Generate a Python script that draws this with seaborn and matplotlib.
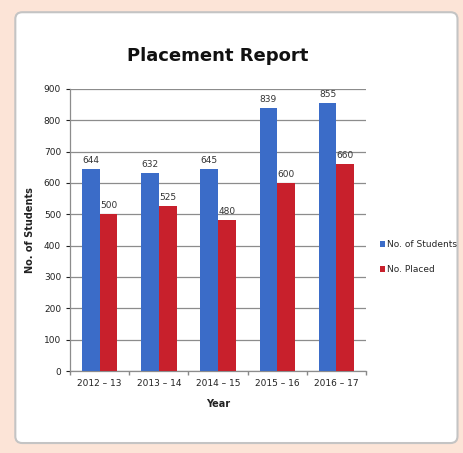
import matplotlib
matplotlib.use("Agg")
import matplotlib.pyplot as plt
import seaborn as sns
import pandas as pd
from matplotlib.patches import FancyBboxPatch, Patch
from matplotlib import font_manager

years = ["2012-13", "2013-14", "2014-15", "2015-16", "2016-17"]
year_labels = ["2012 – 13", "2013 – 14", "2014 – 15", "2015 – 16", "2016 – 17"]
students = [644, 632, 645, 839, 855]
placed = [500, 525, 480, 600, 660]
series = ["No. of Students", "No. Placed"]

sns.set_theme(style="white")
names = {f.name for f in font_manager.fontManager.ttflist}
fam = "Liberation Sans Narrow" if "Liberation Sans Narrow" in names else "DejaVu Sans"
plt.rcParams['font.family'] = [fam, 'DejaVu Sans']
small = 7.5 if fam != "DejaVu Sans" else 6.5

df = pd.DataFrame({
    "Year": years * 2,
    "Value": students + placed,
    "Series": [series[0]] * len(years) + [series[1]] * len(years),
})

fig = plt.figure(figsize=(4.64, 4.53), dpi=100)
fig.patch.set_facecolor("#fce4d7")
panel = FancyBboxPatch((0.033, 0.022), 0.953, 0.951, boxstyle="round,pad=0,rounding_size=0.015",
                       transform=fig.transFigure, facecolor="white", edgecolor="#c4c4c4",
                       linewidth=1.5, zorder=-10)
fig.patches.append(panel)

ax = fig.add_axes([0.151, 0.181, 0.638, 0.623])
ax.set_zorder(1)
ax.set_facecolor("none")
palette = {series[0]: "#3b6cc8", series[1]: "#c8202c"}
sns.barplot(data=df, x="Year", y="Value", hue="Series", palette=palette, ax=ax,
            width=0.6, saturation=1, legend=False, zorder=3, linewidth=0)

for cont in ax.containers:
    ax.bar_label(cont, padding=3, fontsize=small, color="#333333")

ax.set_ylim(0, 900)
ax.set_yticks(range(0, 901, 100))
ax.set_xlim(-0.5, len(years) - 0.5)
ax.set_xticks(range(len(years)))
ax.set_xticklabels(year_labels, fontsize=small, color="#222222")
ax.tick_params(axis="y", labelsize=small, colors="#222222", length=3, left=True, width=0.8)
ax.tick_params(axis="x", length=0, pad=6)
ax.set_xticks([i + 0.5 for i in range(-1, len(years))], minor=True)
ax.tick_params(axis="x", which="minor", length=3, bottom=True, color="#888888")
ax.yaxis.grid(True, color="#8c8c8c", linewidth=0.9, zorder=0)
ax.set_axisbelow(True)
for s in ["top", "right"]:
    ax.spines[s].set_visible(False)
for s in ["left", "bottom"]:
    ax.spines[s].set_color("#8c8c8c")
    ax.spines[s].set_linewidth(0.9)

ax.set_xlabel("Year", fontsize=small + 0.5, fontweight="bold", color="#222222", labelpad=8)
ax.set_ylabel("No. of Students", fontsize=small + 0.5, fontweight="bold", color="#222222", labelpad=6)
ax.set_title("Placement Report", fontsize=13, fontweight="bold", color="#111111", pad=20)

handles = [Patch(facecolor=palette[s], edgecolor="none") for s in series]
fig.legend(handles, series, loc="center left", bbox_to_anchor=(0.818, 0.432), frameon=False,
           fontsize=small, handlelength=0.6, handleheight=0.7, handletextpad=0.2, labelspacing=1.8,
           borderpad=0, borderaxespad=0)

fig.savefig("out.png", dpi=100, facecolor=fig.get_facecolor())
